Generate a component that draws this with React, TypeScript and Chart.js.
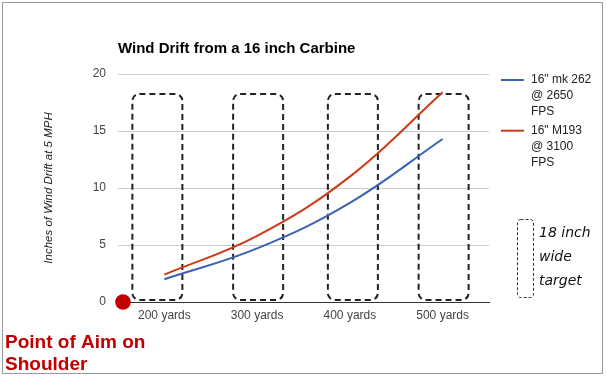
import { useEffect, useRef } from 'react';
import { Chart, registerables } from 'chart.js';

Chart.register(...registerables);

const categories = ['200 yards', '300 yards', '400 yards', '500 yards'];
const mk262 = [2.0, 4.7, 8.7, 14.3];
const m193 = [2.4, 5.8, 11.0, 18.4];
const seriesLabels = ['16" mk 262 @ 2650 FPS', '16" M193 @ 3100 FPS'];
const legendLines = [
  ['16" mk 262', '@ 2650', 'FPS'],
  ['16" M193', '@ 3100', 'FPS'],
];
const chartTitle = 'Wind Drift from a 16 inch Carbine';
const yAxisTitle = 'Inches of Wind Drift at 5 MPH';
const aimNote = ['Point of Aim on', 'Shoulder'];
const targetNote = ['18 inch', 'wide', 'target'];
const targetTop = 18.25;

const BLUE = '#3a62b5';
const RED = '#cc3a17';
const FONT = 'Arial, "Liberation Sans", sans-serif';

const decorPlugin = {
  id: 'decor',
  beforeDraw(chart: any) {
    const ctx = chart.ctx;
    ctx.save();
    ctx.fillStyle = '#ffffff';
    ctx.fillRect(0, 0, chart.width, chart.height);
    ctx.strokeStyle = '#9a9a9a';
    ctx.lineWidth = 1;
    ctx.strokeRect(2.5, 2.5, 600, 371);
    ctx.restore();
  },
  beforeDatasetsDraw(chart: any) {
    const ctx = chart.ctx;
    const xs = chart.scales.x;
    const ys = chart.scales.y;
    const shift = [-7, 1, 3, 1];
    const top = ys.getPixelForValue(targetTop);
    const bottom = ys.getPixelForValue(0) - 2;
    ctx.save();
    ctx.strokeStyle = '#222';
    ctx.lineWidth = 2;
    ctx.setLineDash([6, 4]);
    categories.forEach((_, i) => {
      const cx = xs.getPixelForValue(i) + shift[i];
      ctx.beginPath();
      ctx.roundRect(cx - 25, top, 50, bottom - top, 7);
      ctx.stroke();
    });
    ctx.restore();
  },
  afterDraw(chart: any) {
    const ctx = chart.ctx;
    const area = chart.chartArea;
    const ys = chart.scales.y;
    ctx.save();
    ctx.fillStyle = '#c00000';
    ctx.beginPath();
    ctx.arc(area.left + 5, ys.getPixelForValue(0), 7.8, 0, Math.PI * 2);
    ctx.fill();
    ctx.font = `bold 19px ${FONT}`;
    ctx.textBaseline = 'alphabetic';
    ctx.textAlign = 'left';
    aimNote.forEach((t, i) => ctx.fillText(t, 5, 348 + i * 22));
    const series = [BLUE, RED];
    ctx.font = `12px ${FONT}`;
    ctx.textBaseline = 'middle';
    legendLines.forEach((lines, i) => {
      const y0 = 80 + i * 50.7;
      ctx.strokeStyle = series[i];
      ctx.lineWidth = 2;
      ctx.beginPath();
      ctx.moveTo(area.right + 12, y0);
      ctx.lineTo(area.right + 35, y0);
      ctx.stroke();
      ctx.fillStyle = '#222';
      lines.forEach((t, k) => ctx.fillText(t, area.right + 42, y0 + k * 16));
    });
    ctx.strokeStyle = '#333';
    ctx.lineWidth = 1;
    ctx.setLineDash([3, 2]);
    ctx.beginPath();
    ctx.roundRect(517.5, 219.5, 16, 78, 3);
    ctx.stroke();
    ctx.setLineDash([]);
    ctx.fillStyle = '#111';
    ctx.font = 'italic 14px "DejaVu Sans", sans-serif';
    ctx.textBaseline = 'alphabetic';
    targetNote.forEach((t, i) => ctx.fillText(t, 539, 237 + i * 24));
    ctx.restore();
  },
};

export default function App() {
  const ref = useRef<HTMLCanvasElement | null>(null);
  useEffect(() => {
    if (!ref.current) return;
    const chart = new Chart(ref.current, {
      type: 'line',
      data: {
        labels: categories,
        datasets: [
          {
            label: seriesLabels[0],
            data: mk262,
            borderColor: BLUE,
            backgroundColor: BLUE,
            borderWidth: 2,
            pointRadius: 0,
            tension: 0.4,
          },
          {
            label: seriesLabels[1],
            data: m193,
            borderColor: RED,
            backgroundColor: RED,
            borderWidth: 2,
            pointRadius: 0,
            tension: 0.4,
          },
        ],
      },
      options: {
        animation: false,
        responsive: false,
        events: [],
        font: { family: FONT },
        layout: { padding: { left: 0, top: 0, right: 117, bottom: 45 } },
        plugins: {
          legend: { display: false },
          tooltip: { enabled: false },
          title: {
            display: true,
            text: chartTitle,
            align: 'start',
            fullSize: false,
            color: '#000',
            font: { family: FONT, size: 15, weight: 'bold' },
            padding: { top: 40, bottom: 16 },
          },
        },
        scales: {
          x: {
            type: 'category',
            offset: true,
            grid: { display: false, drawTicks: false },
            border: { display: true, color: '#333', width: 1 },
            ticks: { color: '#444', font: { family: FONT, size: 12 }, padding: 6, maxRotation: 0 },
            afterFit: (s: any) => { s.height = 30; },
          },
          y: {
            min: 0,
            max: 20,
            ticks: { stepSize: 5, color: '#444', font: { family: FONT, size: 12 }, padding: 12 },
            grid: {
              drawTicks: false,
              color: (c: any) => (c.tick && c.tick.value === 0 ? '#333' : '#cccccc'),
            },
            border: { display: false },
            title: {
              display: true,
              text: yAxisTitle,
              color: '#222',
              font: { family: FONT, size: 11.5, style: 'italic' },
              padding: { top: 42, bottom: 0 },
            },
            afterFit: (s: any) => { s.width = 118; },
          },
        },
      } as any,
      plugins: [decorPlugin],
    });
    return () => chart.destroy();
  }, []);
  return (
    <div style={{ position: 'fixed', left: 0, top: 0, width: 606, height: 377 }}>
      <canvas ref={ref} width={606} height={377} style={{ width: 606, height: 377, display: 'block' }} />
    </div>
  );
}
